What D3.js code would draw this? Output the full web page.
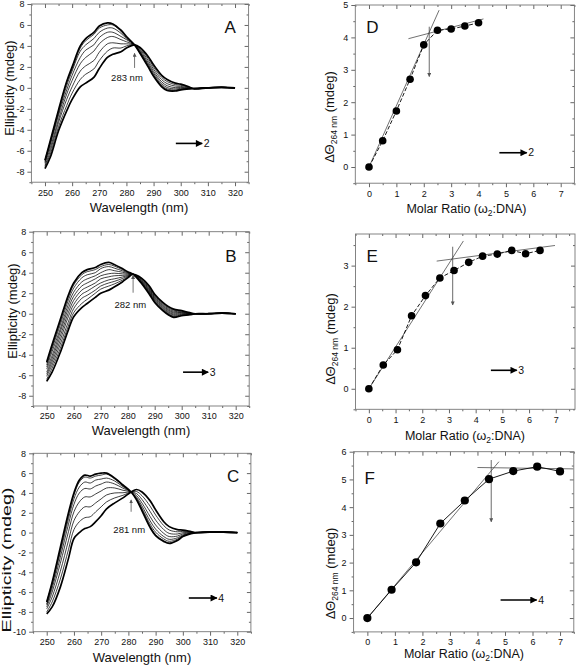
<!DOCTYPE html>
<html><head><meta charset="utf-8">
<script src="https://cdn.jsdelivr.net/npm/d3@7"></script>
<style>
body{margin:0;background:#fff}
svg{display:block}
text{font-family:"Liberation Sans",Arial,Helvetica,sans-serif;fill:#111}
</style>
</head><body>
<svg id="c" width="576" height="666"></svg>
<script>
// ---------------- DATA ----------------
const wlA=[250,252,255,258,260,263,265,268,270,273,275,278,280,283,285,288,290,293,295,298,300,303,305,310,315,320];
const cdA=[
[-6.9,-5.0,-2.1,0.6,2.0,4.0,4.7,5.3,5.9,6.2,6.1,5.5,4.9,4.1,3.3,2.0,1.1,0.1,-0.25,-0.3,-0.2,-0.1,-0.05,0.0,0.05,0.0],
[-6.9,-5.1,-2.2,0.5,1.8,3.8,4.5,5.1,5.7,6.0,6.0,5.4,4.8,4.1,3.3,2.05,1.16,0.16,-0.2,-0.26,-0.17,-0.09,-0.06,0.02,0.05,0.0],
[-7.0,-5.2,-2.4,0.2,1.6,3.5,4.1,4.7,5.3,5.7,5.7,5.2,4.7,4.1,3.4,2.14,1.25,0.25,-0.1,-0.2,-0.12,-0.07,-0.06,0.0,0.05,0.0],
[-7.1,-5.4,-2.6,-0.2,1.2,2.9,3.6,4.1,4.8,5.3,5.3,4.9,4.6,4.1,3.45,2.27,1.4,0.4,0.03,-0.1,-0.05,-0.05,-0.07,0.03,0.05,0.0],
[-7.2,-5.7,-3.0,-0.6,0.7,2.3,2.9,3.5,4.2,4.8,4.9,4.6,4.4,4.1,3.55,2.43,1.57,0.57,0.2,0.02,0.04,-0.01,-0.07,0.01,0.05,0.0],
[-7.4,-6.0,-3.3,-1.1,0.1,1.6,2.1,2.6,3.4,4.2,4.3,4.2,4.2,4.1,3.65,2.62,1.78,0.78,0.4,0.17,0.14,0.02,-0.08,0.02,0.05,0.0],
[-7.5,-6.3,-3.7,-1.7,-0.5,0.8,1.3,1.8,2.6,3.5,3.8,3.8,4.0,4.1,3.75,2.81,1.99,0.99,0.6,0.31,0.25,0.06,-0.09,0.0,0.05,0.0],
[-7.7,-6.6,-4.1,-2.2,-1.1,0.1,0.45,1.0,1.85,2.9,3.2,3.45,3.8,4.1,3.85,3.0,2.2,1.2,0.8,0.45,0.35,0.1,-0.1,0.0,0.05,0.0]
];
const wlB=[250,252,255,258,260,263,265,268,270,273,275,278,280,282,285,288,290,293,295,297,300,303,305,310,315,320];
const cdB=[
[-4.7,-3.0,-0.6,1.8,3.0,4.0,4.3,4.5,4.8,5.0,4.8,4.4,4.1,3.85,3.0,1.9,1.1,0.3,-0.1,-0.35,-0.2,-0.1,0.0,0.0,0.05,0.0],
[-4.8,-3.2,-0.8,1.6,2.8,3.8,4.1,4.3,4.6,4.8,4.65,4.31,4.06,3.85,3.04,1.96,1.16,0.36,-0.04,-0.29,-0.17,-0.09,0.0,0.01,0.05,0.0],
[-5.0,-3.4,-1.1,1.3,2.5,3.5,3.8,4.0,4.4,4.6,4.45,4.19,4.0,3.85,3.08,2.03,1.23,0.43,0.03,-0.22,-0.12,-0.07,0.0,0.02,0.05,0.0],
[-5.2,-3.7,-1.5,0.9,2.1,3.1,3.4,3.7,4.0,4.3,4.2,4.05,3.94,3.85,3.14,2.12,1.32,0.52,0.12,-0.13,-0.07,-0.05,0.0,0.0,0.05,0.0],
[-5.4,-4.1,-1.8,0.5,1.7,2.7,3.0,3.4,3.7,3.9,3.95,3.89,3.87,3.85,3.2,2.21,1.41,0.61,0.21,-0.04,0.0,-0.02,0.0,0.01,0.05,0.0],
[-5.7,-4.4,-2.2,0.1,1.3,2.3,2.6,3.0,3.4,3.6,3.7,3.74,3.79,3.85,3.26,2.31,1.51,0.71,0.31,0.06,0.06,0.0,0.0,0.0,0.05,0.0],
[-5.9,-4.7,-2.6,-0.3,0.9,1.9,2.2,2.7,3.0,3.3,3.4,3.58,3.72,3.85,3.32,2.4,1.6,0.8,0.4,0.15,0.12,0.03,0.0,0.02,0.05,0.0],
[-6.1,-5.0,-3.0,-0.8,0.5,1.5,1.8,2.3,2.7,3.0,3.15,3.43,3.65,3.85,3.38,2.5,1.7,0.9,0.5,0.25,0.18,0.05,0.0,0.0,0.05,0.0],
[-6.4,-5.3,-3.4,-1.2,0.1,1.0,1.4,2.0,2.4,2.7,2.9,3.27,3.58,3.85,3.44,2.6,1.8,1.0,0.6,0.35,0.24,0.07,0.0,0.01,0.05,0.0],
[-6.6,-5.7,-3.8,-1.6,-0.3,0.6,1.0,1.6,2.0,2.3,2.6,3.1,3.5,3.85,3.5,2.7,1.9,1.1,0.7,0.45,0.3,0.1,0.0,0.0,0.05,0.0]
];
const wlC=[250,252,255,258,260,262,264,266,268,270,272,275,278,281,283,285,288,290,293,295,298,300,303,305,310,315,320];
const cdC=[
[-7.0,-5.0,-1.5,2.0,4.0,5.3,5.8,5.7,5.9,6.0,6.0,5.5,4.8,4.1,3.3,2.2,0.5,-0.3,-0.9,-1.1,-0.8,-0.4,-0.1,0.0,0.05,0.05,0.0],
[-7.0,-5.1,-1.7,1.8,3.8,5.1,5.6,5.5,5.7,5.8,5.9,5.4,4.75,4.1,3.34,2.28,0.61,-0.2,-0.82,-1.03,-0.76,-0.37,-0.09,0.0,0.05,0.05,0.0],
[-7.2,-5.3,-2.0,1.4,3.4,4.6,5.1,5.0,5.3,5.4,5.5,5.2,4.63,4.1,3.44,2.45,0.85,0.04,-0.64,-0.88,-0.66,-0.32,-0.07,0.0,0.05,0.05,0.0],
[-7.3,-5.6,-2.5,0.85,2.85,4.0,4.45,4.4,4.7,4.9,5.1,4.9,4.48,4.1,3.56,2.68,1.18,0.35,-0.4,-0.68,-0.53,-0.24,-0.05,0.0,0.05,0.05,0.0],
[-7.5,-6.0,-3.1,0.1,2.1,3.1,3.6,3.6,3.9,4.2,4.5,4.5,4.27,4.1,3.73,2.98,1.61,0.77,-0.08,-0.4,-0.35,-0.13,-0.02,0.0,0.05,0.05,0.0],
[-7.7,-6.5,-3.9,-0.8,1.2,2.1,2.6,2.6,3.0,3.4,3.8,4.0,4.02,4.1,3.93,3.34,2.12,1.26,0.3,-0.08,-0.14,-0.01,0.02,0.0,0.05,0.05,0.0],
[-8.0,-7.0,-4.7,-1.7,0.3,1.1,1.5,1.6,2.1,2.6,3.1,3.5,3.76,4.1,4.14,3.72,2.66,1.78,0.7,0.26,0.08,0.12,0.06,0.0,0.05,0.05,0.0],
[-8.2,-7.5,-5.5,-2.6,-0.6,0.0,0.4,0.6,1.1,1.7,2.4,3.0,3.5,4.1,4.35,4.1,3.2,2.3,1.1,0.6,0.3,0.25,0.1,0.0,0.05,0.05,0.0]
];
// titration points
const ratioD=[0,0.5,1.0,1.5,2.0,2.5,3.0,3.5,4.0];
const dThetaD=[0,0.81,1.73,2.71,3.77,4.22,4.26,4.35,4.45];
const ratioE=[0,0.54,1.07,1.6,2.12,2.66,3.19,3.74,4.26,4.81,5.35,5.87,6.41];
const dThetaE=[0,0.58,0.95,1.78,2.27,2.7,2.88,3.08,3.23,3.28,3.37,3.29,3.37];
const ratioF=[0,0.88,1.77,2.65,3.54,4.42,5.3,6.17,7.0];
const dThetaF=[0,1.02,2.01,3.41,4.24,5.01,5.3,5.46,5.29];
// fitted lines (endpoints) and break-point arrows
const fitD=[[[0,0],[2.56,4.84]],[[1.44,3.96],[4.18,4.57]]];
const fitE=[[[0,0],[3.54,3.6]],[[2.54,3.11],[6.97,3.49]]];
const fitF=[[[0,0],[4.78,5.64]],[[4.0,5.43],[7.48,5.38]]];
const breakD=[2.2,4.33,2.79], breakE=[3.14,3.46,2.04], breakF=[4.5,5.7,3.47];
// tick labels
const ticksWl=[250,260,270,280,290,300,310,320];
const ticksEllAB=[-8,-6,-4,-2,0,2,4,6,8];
const ticksEllC=[-10,-8,-6,-4,-2,0,2,4,6,8];
const ticksRatio=[0,1,2,3,4,5,6,7];
const ticksD=[0,1,2,3,4,5], ticksE=[0,1,2,3], ticksF=[0,1,2,3,4,5,6];
const isoLabels=["283 nm","282 nm","281 nm"];
const isoWl=[283,282,281];
const panelLetters=["A","B","C","D","E","F"];
const ratioLabels=["2","3","4"];

// ---------------- DRAW ----------------
const svg=d3.select("#c");
const defs=svg.append("defs");
defs.append("marker").attr("id","ah").attr("viewBox","0 0 10 10").attr("refX",9).attr("refY",5)
  .attr("markerWidth",10).attr("markerHeight",7).attr("markerUnits","userSpaceOnUse").attr("orient","auto")
  .append("path").attr("d","M0,0L10,5L0,10Z").attr("fill","#000");
defs.append("marker").attr("id","ahg").attr("viewBox","0 0 10 10").attr("refX",9).attr("refY",5)
  .attr("markerWidth",4).attr("markerHeight",4).attr("markerUnits","userSpaceOnUse").attr("orient","auto")
  .append("path").attr("d","M0,0L10,5L0,10Z").attr("fill","#555");

function range(a,b,s){return d3.range(a,b+s/2,s);}

function panel(o){
  const x=d3.scaleLinear().domain(o.xd).range([o.l,o.r]);
  const y=d3.scaleLinear().domain(o.yd).range([o.b,o.t]);
  const g=svg.append("g");
  const fmt=d=>String(d);
  // bottom major
  g.append("g").attr("transform",`translate(0,${o.b})`)
    .call(d3.axisBottom(x).tickValues(o.xt).tickSize(4).tickPadding(3).tickFormat(fmt)).call(s=>s.select(".domain").remove());
  g.append("g").attr("transform",`translate(0,${o.b})`)
    .call(d3.axisBottom(x).tickValues(o.xm).tickSize(2).tickFormat("")).call(s=>s.select(".domain").remove());
  // left
  g.append("g").attr("transform",`translate(${o.l},0)`)
    .call(d3.axisLeft(y).tickValues(o.yt).tickSize(4).tickPadding(3).tickFormat(fmt)).call(s=>s.select(".domain").remove());
  g.append("g").attr("transform",`translate(${o.l},0)`)
    .call(d3.axisLeft(y).tickValues(o.ym).tickSize(2).tickFormat("")).call(s=>s.select(".domain").remove());
  // mirror top / right (inward)
  g.append("g").attr("transform",`translate(0,${o.t})`)
    .call(d3.axisBottom(x).tickValues(o.xt).tickSize(4).tickFormat("")).call(s=>s.select(".domain").remove());
  g.append("g").attr("transform",`translate(0,${o.t})`)
    .call(d3.axisBottom(x).tickValues(o.xm).tickSize(2).tickFormat("")).call(s=>s.select(".domain").remove());
  g.append("g").attr("transform",`translate(${o.r},0)`)
    .call(d3.axisLeft(y).tickValues(o.yt).tickSize(4).tickFormat("")).call(s=>s.select(".domain").remove());
  g.append("g").attr("transform",`translate(${o.r},0)`)
    .call(d3.axisLeft(y).tickValues(o.ym).tickSize(2).tickFormat("")).call(s=>s.select(".domain").remove());
  g.selectAll(".tick line").attr("stroke","#666");
  g.selectAll(".tick text").attr("font-size",9).attr("fill","#222").style("font-family",'"Liberation Sans",Arial,sans-serif');
  g.append("rect").attr("x",o.l).attr("y",o.t).attr("width",o.r-o.l).attr("height",o.b-o.t)
    .attr("fill","none").attr("stroke","#777").attr("stroke-width",0.9);
  return {x,y,g};
}

// --- CD panels ---
const cdPanels=[
 {wl:wlA,cd:cdA,l:31.4,r:248.6,t:4,b:182.2,yd:[-9,8],yt:ticksEllAB,ym:range(-9,7,1).filter(v=>v%2!==0),
  letterY:33,ytitle:[14,88,null],xtitle:[139,211.5],arrow:[[298.2,307.9],-5.3]},
 {wl:wlB,cd:cdB,l:33.2,r:249.2,t:231.7,b:406,yd:[-9,8],yt:ticksEllAB,ym:range(-9,7,1).filter(v=>v%2!==0),
  letterY:262,ytitle:[16.5,311,null],xtitle:[141,435],arrow:[[300.5,309.8],-5.7]},
 {wl:wlC,cd:cdC,l:33.1,r:250.9,t:453.3,b:631.7,yd:[-10,8],yt:ticksEllC,ym:range(-9,7,2),
  letterY:482,ytitle:[11,560,145],xtitle:[142,661.5],arrow:[[302.2,312.5],-6.6]}
];
cdPanels.forEach((p,i)=>{
  const P=panel({l:p.l,r:p.r,t:p.t,b:p.b,xd:[245,325],yd:p.yd,xt:ticksWl,xm:range(245,325,5).filter(v=>v%10!==0),yt:p.yt,ym:p.ym});
  const line=d3.line().x(d=>P.x(d[0])).y(d=>P.y(d[1])).curve(d3.curveCatmullRom.alpha(0.5));
  const n=p.cd.length;
  p.cd.forEach((c,k)=>{
    P.g.append("path").attr("d",line(p.wl.map((w,j)=>[w,c[j]])))
      .attr("fill","none").attr("stroke","#000").attr("stroke-linejoin","round")
      .attr("stroke-width",(k===0||k===n-1)?1.7:0.75);
  });
  // isoelliptic arrow
  const iw=isoWl[i];
  const y0=[1.9,2.05,2.1][i], y1=[3.3,3.75,3.3][i];
  P.g.append("line").attr("x1",P.x(iw)).attr("x2",P.x(iw)).attr("y1",P.y(y0)).attr("y2",P.y(y1))
    .attr("stroke","#777").attr("stroke-width",1).attr("marker-end","url(#ahg)");
  const lx=[280.2,281,280.3][i], ly=[0.65,0.59,-0.01][i];
  P.g.append("text").attr("x",P.x(lx)).attr("y",P.y(ly)).attr("text-anchor","middle").attr("font-size",9.5).text(isoLabels[i]);
  // titrant arrow
  P.g.append("line").attr("x1",P.x(p.arrow[0][0])).attr("x2",P.x(p.arrow[0][1]))
    .attr("y1",P.y(p.arrow[1])).attr("y2",P.y(p.arrow[1])).attr("stroke","#000").attr("stroke-width",1.6).attr("marker-end","url(#ah)");
  P.g.append("text").attr("x",P.x(p.arrow[0][1])+1.5).attr("y",P.y(p.arrow[1])+3.6).attr("font-size",10.5).text(ratioLabels[i]);
  // letter
  P.g.append("text").attr("x",p.r-24).attr("y",p.letterY).attr("font-size",17).text(panelLetters[i]);
  // titles
  const yt=P.g.append("text").attr("transform",`translate(${p.ytitle[0]},${p.ytitle[1]}) rotate(-90)`)
    .attr("text-anchor","middle").attr("font-size",13).text("Ellipticity (mdeg)");
  if(p.ytitle[2]) yt.attr("textLength",p.ytitle[2]).attr("lengthAdjust","spacingAndGlyphs");
  P.g.append("text").attr("x",p.xtitle[0]).attr("y",p.xtitle[1]).attr("text-anchor","middle").attr("font-size",13).text("Wavelength (nm)");
});

// --- titration panels ---
const tPanels=[
 {rx:ratioD,ry:dThetaD,fit:fitD,brk:breakD,l:355.3,r:574.4,t:5,b:183.2,xd:[-0.5,7.5],yd:[-0.5,5],yt:ticksD,
  dash:"4,2",arr:[[4.76,5.76],0.44],letterY:33,ytitle:[334,117],xtitle:[466.5,213]},
 {rx:ratioE,ry:dThetaE,fit:fitE,brk:breakE,l:355.5,r:575,t:234,b:409.3,xd:[-0.5,7.72],yd:[-0.5,3.77],yt:ticksE,
  dash:"4,2",arr:[[4.57,5.54],0.45],letterY:262,ytitle:[335,339],xtitle:[465,440]},
 {rx:ratioF,ry:dThetaF,fit:fitF,brk:breakF,l:353.6,r:573.8,t:451.7,b:631.9,xd:[-0.5,7.5],yd:[-0.5,6],yt:ticksF,
  dash:null,arr:[[4.84,6.15],0.65],letterY:484,ytitle:[335,573.5],xtitle:[464,658]}
];
tPanels.forEach((p,i)=>{
  const ymin=p.yd[0];
  const P=panel({l:p.l,r:p.r,t:p.t,b:p.b,xd:p.xd,yd:p.yd,xt:ticksRatio,xm:range(-0.5,7.5,1),
    yt:p.yt,ym:range(-0.5,p.yd[1],1)});
  // fitted lines
  p.fit.forEach(seg=>{
    P.g.append("line").attr("x1",P.x(seg[0][0])).attr("y1",P.y(seg[0][1])).attr("x2",P.x(seg[1][0])).attr("y2",P.y(seg[1][1]))
      .attr("stroke","#333").attr("stroke-width",0.7);
  });
  // connector
  const ln=d3.line().x(d=>P.x(d[0])).y(d=>P.y(d[1]));
  const conn=P.g.append("path").attr("d",ln(p.rx.map((v,j)=>[v,p.ry[j]]))).attr("fill","none").attr("stroke","#000").attr("stroke-width",0.9);
  if(p.dash) conn.attr("stroke-dasharray",p.dash);
  // break arrow
  P.g.append("line").attr("x1",P.x(p.brk[0])).attr("x2",P.x(p.brk[0])).attr("y1",P.y(p.brk[1])).attr("y2",P.y(p.brk[2]))
    .attr("stroke","#444").attr("stroke-width",0.8).attr("marker-end","url(#ahg)");
  // points
  P.g.selectAll("circle.pt").data(p.rx.map((v,j)=>[v,p.ry[j]])).join("circle")
    .attr("cx",d=>P.x(d[0])).attr("cy",d=>P.y(d[1])).attr("r",i===2?4.1:3.8).attr("fill","#000");
  // titrant arrow
  P.g.append("line").attr("x1",P.x(p.arr[0][0])).attr("x2",P.x(p.arr[0][1])).attr("y1",P.y(p.arr[1])).attr("y2",P.y(p.arr[1]))
    .attr("stroke","#000").attr("stroke-width",1.6).attr("marker-end","url(#ah)");
  P.g.append("text").attr("x",P.x(p.arr[0][1])+1.5).attr("y",P.y(p.arr[1])+3.6).attr("font-size",10.5).text(ratioLabels[i]);
  // letter
  P.g.append("text").attr("x",p.l+11).attr("y",p.letterY).attr("font-size",17).text(panelLetters[i+3]);
  // y title
  const yt=P.g.append("text").attr("transform",`translate(${p.ytitle[0]},${p.ytitle[1]}) rotate(-90)`)
    .attr("text-anchor","middle").attr("font-size",13);
  yt.append("tspan").text("ΔΘ");
  yt.append("tspan").attr("font-size",8.5).attr("dy",3).text("264 nm");
  yt.append("tspan").attr("dy",-3).text(" (mdeg)");
  // x title
  const xt=P.g.append("text").attr("x",p.xtitle[0]).attr("y",p.xtitle[1]).attr("text-anchor","middle").attr("font-size",12.5);
  xt.append("tspan").text("Molar Ratio (ω");
  xt.append("tspan").attr("font-size",8.5).attr("dy",3).text("2");
  xt.append("tspan").attr("dy",-3).text(":DNA)");
});
</script>
</body></html>
